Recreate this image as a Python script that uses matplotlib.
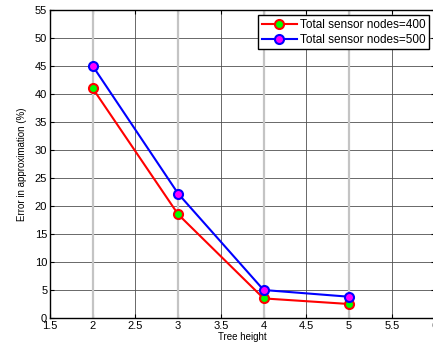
import matplotlib
matplotlib.use("Agg")
import matplotlib.pyplot as plt

tree_height = [2, 3, 4, 5]
err_400 = [41, 18.5, 3.5, 2.5]
err_500 = [45, 22.2, 5.0, 3.8]
labels = ["Total sensor nodes=400", "Total sensor nodes=500"]
xticks = [1.5, 2, 2.5, 3, 3.5, 4, 4.5, 5, 5.5, 6]
yticks = list(range(0, 56, 5))

plt.rcParams['font.family'] = ['Liberation Sans', 'DejaVu Sans']
fig = plt.figure(figsize=(4.33, 3.51), dpi=100)
ax = fig.add_axes([0.1155, 0.094, 0.888, 0.8775])

for x in tree_height:
    ax.axvline(x, color='#c4c4c4', lw=1.6, zorder=1)

ax.plot(tree_height, err_400, color='red', lw=1.5, marker='o', ms=6.5,
        mfc='#00ff00', mec='red', mew=1.5, label=labels[0], zorder=3)
ax.plot(tree_height, err_500, color='blue', lw=1.5, marker='o', ms=6.5,
        mfc='magenta', mec='blue', mew=1.5, label=labels[1], zorder=3)

ax.set_xlim(1.5, 6)
ax.set_ylim(0, 55)
ax.set_xticks(xticks)
ax.set_xticklabels([f"{t:g}" for t in xticks])
ax.set_yticks(yticks)
ax.grid(True, color='#505050', lw=0.6, ls='-', zorder=0)
ax.set_axisbelow(True)
ax.tick_params(direction='in', top=True, right=True, labelsize=8, length=3, pad=2)
for s in ax.spines.values():
    s.set_linewidth(1.0)

ax.set_xlabel("Tree height", fontsize=7, labelpad=1)
ax.set_ylabel("Error in approximation (%)", fontsize=7, labelpad=6)

leg = ax.legend(loc='upper right', fontsize=8.5, fancybox=False, framealpha=1,
                edgecolor='black', borderpad=0.3, handlelength=3.0,
                handletextpad=0.25, labelspacing=0.25, borderaxespad=0.45)
leg.get_frame().set_linewidth(1.0)

fig.savefig("out.png", dpi=100)
